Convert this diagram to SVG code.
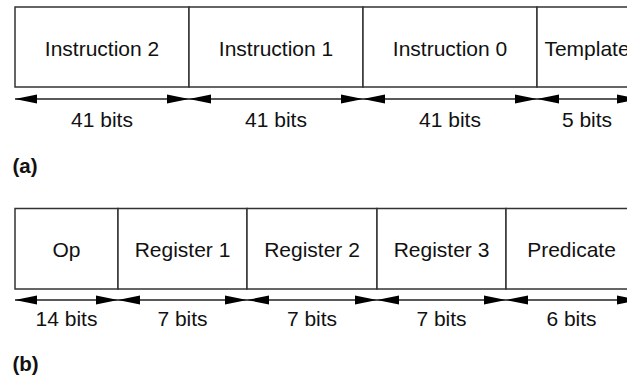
<svg xmlns="http://www.w3.org/2000/svg" width="627" height="377" viewBox="0 0 627 377">
  <style>
    .box { fill: #fff; stroke: #333; stroke-width: 1.5; }
    .t { font-family: "Liberation Sans", Arial, sans-serif; font-size: 21px; fill: #111; text-anchor: middle; }
    .cap { font-family: "Liberation Sans", Arial, sans-serif; font-size: 20.5px; font-weight: bold; fill: #111; }
    .dim { stroke: #222; stroke-width: 1.6; fill: none; marker-start: url(#ah); marker-end: url(#ah); }
  </style>
  <defs>
    <marker id="ah" markerUnits="userSpaceOnUse" viewBox="0 0 22 10" refX="22" refY="5" markerWidth="22" markerHeight="10" orient="auto-start-reverse">
      <path d="M0,0.5 L22,5 L0,9.5 Z" fill="#000"/>
    </marker>
  </defs>
  <rect width="627" height="377" fill="#fff"/>

  <!-- (a) bundle -->
  <g id="a-instr2"><rect class="box" x="15" y="7" width="174" height="80"/><text class="t" x="102" y="56">Instruction 2</text></g>
  <g id="a-instr1"><rect class="box" x="189" y="7" width="174" height="80"/><text class="t" x="276" y="56">Instruction 1</text></g>
  <g id="a-instr0"><rect class="box" x="363" y="7" width="174" height="80"/><text class="t" x="450" y="56">Instruction 0</text></g>
  <g id="a-template"><rect class="box" x="537" y="7" width="110" height="80"/><text class="t" x="587" y="56">Template</text></g>

  <!-- (b) instruction -->
  <g id="b-op"><rect class="box" x="15" y="208.5" width="103" height="80.5"/><text class="t" x="66.5" y="257">Op</text></g>
  <g id="b-reg1"><rect class="box" x="118" y="208.5" width="129" height="80.5"/><text class="t" x="182.5" y="257">Register 1</text></g>
  <g id="b-reg2"><rect class="box" x="247" y="208.5" width="130" height="80.5"/><text class="t" x="312" y="257">Register 2</text></g>
  <g id="b-reg3"><rect class="box" x="377" y="208.5" width="129" height="80.5"/><text class="t" x="441.5" y="257">Register 3</text></g>
  <g id="b-pred"><rect class="box" x="506" y="208.5" width="140" height="80.5"/><text class="t" x="571.5" y="257">Predicate</text></g>

  <g id="connectors">
    <line class="dim" x1="15" y1="99" x2="189" y2="99"/>
    <line class="dim" x1="189" y1="99" x2="363" y2="99"/>
    <line class="dim" x1="363" y1="99" x2="537" y2="99"/>
    <line class="dim" x1="537" y1="99" x2="639" y2="99"/>

    <line class="dim" x1="15" y1="300" x2="118" y2="300"/>
    <line class="dim" x1="118" y1="300" x2="247" y2="300"/>
    <line class="dim" x1="247" y1="300" x2="377" y2="300"/>
    <line class="dim" x1="377" y1="300" x2="506" y2="300"/>
    <line class="dim" x1="506" y1="300" x2="639" y2="300"/>
  </g>

  <g id="labels">
    <text class="t" x="102" y="126.5">41 bits</text>
    <text class="t" x="276" y="126.5">41 bits</text>
    <text class="t" x="450" y="126.5">41 bits</text>
    <text class="t" x="587" y="126.5">5 bits</text>

    <text class="t" x="66.5" y="326">14 bits</text>
    <text class="t" x="182.5" y="326">7 bits</text>
    <text class="t" x="312" y="326">7 bits</text>
    <text class="t" x="441.5" y="326">7 bits</text>
    <text class="t" x="571.5" y="326">6 bits</text>

    <text class="cap" x="12.5" y="172.5">(a)</text>
    <text class="cap" x="12.5" y="370.5">(b)</text>
  </g>
</svg>
